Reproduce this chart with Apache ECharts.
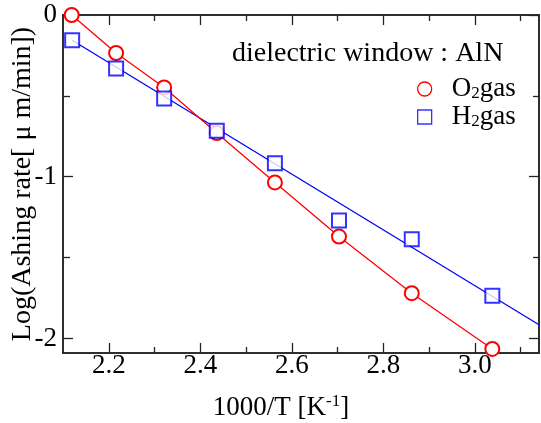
<!DOCTYPE html>
<html>
<head>
<meta charset="utf-8">
<script src="https://cdn.jsdelivr.net/npm/echarts@6/dist/echarts.min.js"></script>
<style>
  html, body { margin: 0; padding: 0; background: #fff; }
  #main { width: 541px; height: 423px; }
</style>
</head>
<body>
<div id="main"></div>
<script>
// O2 gas points
var o2X = [2.119, 2.216, 2.321, 2.436, 2.563, 2.703, 2.862, 3.038];
var o2Y = [0.0, -0.235, -0.448, -0.73, -1.035, -1.37, -1.72, -2.065];
// H2 gas points
var h2X = [2.12, 2.216, 2.321, 2.436, 2.563, 2.703, 2.862, 3.038];
var h2Y = [-0.156, -0.331, -0.516, -0.715, -0.917, -1.27, -1.386, -1.736];
// H2 fitted line ends
var h2FitX = [2.12, 3.14];
var h2FitY = [-0.156, -1.915];

var xMajor = [2.2, 2.4, 2.6, 2.8, 3.0];
var xMinor = [2.3, 2.5, 2.7, 2.9, 3.1];
var yMajor = [0, -1, -2];
var yMinor = [-0.5, -1.5];

var font = "'Liberation Serif', 'Times New Roman', 'DejaVu Serif', serif";
var fs = 27;
var axisColor = "#222";

var pairs = function(xs, ys) {
  return xs.map(function(x, i) { return [x, ys[i]]; });
};

var makeX = function(pos, ticks, len, labels) {
  return {
    type: "value",
    position: pos,
    min: 2.1,
    max: 3.14,
    axisLine: { show: true, onZero: false, lineStyle: { color: axisColor, width: 1.5 } },
    axisTick: { show: true, inside: true, length: len, customValues: ticks, lineStyle: { color: axisColor, width: 1.3 } },
    axisLabel: labels ? {
      show: true, customValues: xMajor, margin: -1, color: "#000",
      fontFamily: font, fontSize: fs,
      formatter: function(v) { return v.toFixed(1); }
    } : { show: false },
    splitLine: { show: false }
  };
};
var makeY = function(pos, ticks, len, labels) {
  return {
    type: "value",
    position: pos,
    min: -2.09,
    max: 0,
    axisLine: { show: true, onZero: false, lineStyle: { color: axisColor, width: 1.5 } },
    axisTick: { show: true, inside: true, length: len, customValues: ticks, lineStyle: { color: axisColor, width: 1.3 } },
    axisLabel: labels ? {
      show: true, customValues: yMajor, margin: 6, color: "#000",
      fontFamily: font, fontSize: fs
    } : { show: false },
    splitLine: { show: false }
  };
};

var xAxes = [
  makeX("bottom", xMajor, 10, true),
  makeX("bottom", xMinor, 6, false),
  makeX("top", xMajor, 10, false),
  makeX("top", xMinor, 6, false)
];
xAxes[0].name = "{a|1000/T [K}{s|-1}{a|]}";
xAxes[0].nameLocation = "middle";
xAxes[0].nameGap = 40;
xAxes[0].nameMoveOverlap = false;
xAxes[0].nameTextStyle = {
  padding: [0, 40, 0, 0],
  rich: {
    a: { fontFamily: font, fontSize: fs, color: "#000", verticalAlign: "bottom", lineHeight: 28 },
    s: { fontFamily: font, fontSize: 17, color: "#000", verticalAlign: "top", lineHeight: 28 }
  }
};
var yAxes = [
  makeY("left", yMajor, 10, true),
  makeY("left", yMinor, 7, false),
  makeY("right", yMajor, 10, false),
  makeY("right", yMinor, 6, false)
];
yAxes[0].name = "Log(Ashing rate[ \u03bc m/min])";
yAxes[0].nameLocation = "middle";
yAxes[0].nameGap = 26;
yAxes[0].nameMoveOverlap = false;
yAxes[0].nameTextStyle = { fontFamily: font, fontSize: 28, color: "#000" };

var legendRich = {
  a: { fontFamily: font, fontSize: fs, color: "#000", verticalAlign: "bottom", lineHeight: 26 },
  s: { fontFamily: font, fontSize: 17, color: "#000", verticalAlign: "bottom", lineHeight: 20 }
};

var myChart = echarts.init(document.getElementById("main"));
var option = {
  animation: false,
  backgroundColor: "#fff",
  grid: { left: 63, right: 2, top: 15, bottom: 70, containLabel: false, outerBoundsMode: "none" },
  xAxis: xAxes,
  yAxis: yAxes,
  graphic: [
    {
      type: "text",
      left: 232,
      top: 40,
      style: { text: "dielectric window : AlN", font: "28px " + font, fill: "#000" }
    }
  ],
  legend: {
    orient: "vertical",
    left: 412,
    top: 70,
    itemWidth: 14,
    itemHeight: 14,
    itemGap: 1,
    data: [
      { name: "O2gas", icon: "circle", itemStyle: { color: "#fff", borderColor: "#ff0000", borderWidth: 1.3 } },
      { name: "H2gas", icon: "rect", itemStyle: { color: "#fff", borderColor: "#0000ff", borderWidth: 1.3 } }
    ],
    formatter: function(name) {
      return name === "O2gas" ? "{a|O}{s|2}{a|gas}" : "{a|H}{s|2}{a|gas}";
    },
    textStyle: { padding: [0, 0, 0, 15], rich: legendRich }
  },
  series: [
    {
      name: "O2gas",
      type: "line",
      data: pairs(o2X, o2Y),
      symbol: "emptyCircle",
      symbolSize: 14,
      z: 3,
      lineStyle: { color: "#ff0000", width: 1.3 },
      itemStyle: { color: "#ff0000", borderColor: "#ff0000", borderWidth: 1.3 }
    },
    {
      name: "H2fit",
      type: "line",
      data: pairs(h2FitX, h2FitY),
      showSymbol: false,
      symbol: "none",
      z: 2,
      lineStyle: { color: "#0000ff", width: 1.3 }
    },
    {
      name: "H2gas",
      type: "scatter",
      data: pairs(h2X, h2Y),
      symbol: "emptyRect",
      symbolSize: 14,
      z: 4,
      itemStyle: { color: "#0000ff", borderColor: "#0000ff", borderWidth: 1.5 }
    }
  ]
};
myChart.setOption(option);
</script>
</body>
</html>
